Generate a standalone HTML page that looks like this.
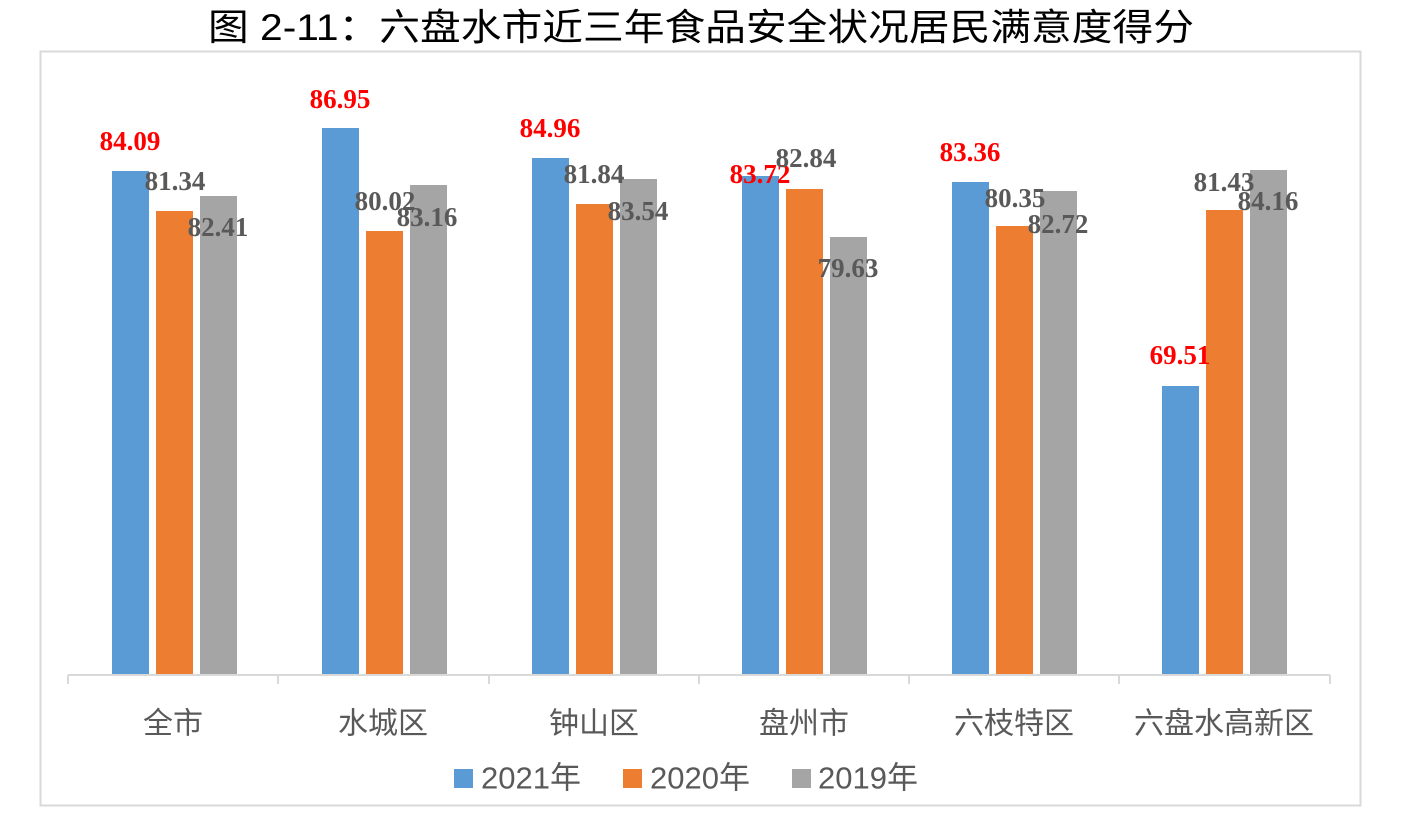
<!DOCTYPE html>
<html><head><meta charset="utf-8"><style>
html,body{margin:0;padding:0;background:#fff;}
svg{display:block;}
</style></head><body>
<svg width="1402" height="820" xmlns="http://www.w3.org/2000/svg">
<text x="701" y="40" text-anchor="middle" font-family="'Liberation Sans','Noto Sans CJK SC',sans-serif" font-size="37" fill="#000" textLength="986" lengthAdjust="spacingAndGlyphs">图 2-11：六盘水市近三年食品安全状况居民满意度得分</text>
<rect x="40.5" y="51.5" width="1320" height="754" fill="#fff" stroke="#d9d9d9" stroke-width="2"/>
<g fill="#5b9bd5">
<rect x="112" y="171" width="37" height="504"/>
<rect x="322" y="128" width="37" height="547"/>
<rect x="532" y="158" width="37" height="517"/>
<rect x="742" y="176" width="37" height="499"/>
<rect x="952" y="182" width="37" height="493"/>
<rect x="1162" y="386" width="37" height="289"/>
</g>
<g fill="#ed7d31">
<rect x="156" y="211" width="37" height="464"/>
<rect x="366" y="231" width="37" height="444"/>
<rect x="576" y="204" width="37" height="471"/>
<rect x="786" y="189" width="37" height="486"/>
<rect x="996" y="226" width="37" height="449"/>
<rect x="1206" y="210" width="37" height="465"/>
</g>
<g fill="#a5a5a5">
<rect x="200" y="196" width="37" height="479"/>
<rect x="410" y="185" width="37" height="490"/>
<rect x="620" y="179" width="37" height="496"/>
<rect x="830" y="237" width="37" height="438"/>
<rect x="1040" y="191" width="37" height="484"/>
<rect x="1250" y="170" width="37" height="505"/>
</g>
<g stroke="#d9d9d9" stroke-width="2">
<line x1="68" y1="675" x2="1330" y2="675"/>
<line x1="68" y1="675" x2="68" y2="684"/><line x1="278" y1="675" x2="278" y2="684"/>
<line x1="489" y1="675" x2="489" y2="684"/><line x1="699" y1="675" x2="699" y2="684"/>
<line x1="909" y1="675" x2="909" y2="684"/><line x1="1119" y1="675" x2="1119" y2="684"/>
<line x1="1330" y1="675" x2="1330" y2="684"/>
</g>
<g font-family="'Liberation Serif',serif" font-weight="bold" font-size="27" text-anchor="middle" dominant-baseline="central">
<g fill="#ff0000">
<text x="130" y="141">84.09</text><text x="340" y="99">86.95</text><text x="550" y="128">84.96</text>
<text x="760" y="174">83.72</text><text x="970" y="152">83.36</text><text x="1180" y="355">69.51</text>
</g>
<g fill="#595959">
<text x="175" y="181">81.34</text><text x="218" y="227">82.41</text>
<text x="385" y="201">80.02</text><text x="427" y="217">83.16</text>
<text x="594" y="174">81.84</text><text x="638" y="211">83.54</text>
<text x="806" y="158">82.84</text><text x="848" y="268">79.63</text>
<text x="1015" y="198">80.35</text><text x="1058" y="224">82.72</text>
<text x="1224" y="182">81.43</text><text x="1268" y="201">84.16</text>
</g>
</g>
<g font-family="'Liberation Sans','Noto Sans CJK SC',sans-serif" font-size="30" fill="#595959" text-anchor="middle" dominant-baseline="central">
<text x="173" y="724">全市</text><text x="383" y="724">水城区</text><text x="594" y="724">钟山区</text>
<text x="804" y="724">盘州市</text><text x="1014" y="724">六枝特区</text><text x="1224" y="724">六盘水高新区</text>
</g>
<rect x="454" y="769" width="19" height="19" fill="#5b9bd5"/>
<rect x="623" y="769" width="19" height="19" fill="#ed7d31"/>
<rect x="792" y="769" width="19" height="19" fill="#a5a5a5"/>
<g font-family="'Liberation Sans','Noto Sans CJK SC',sans-serif" font-size="31" fill="#595959" dominant-baseline="central">
<text x="481" y="778">2021年</text><text x="650" y="778">2020年</text><text x="818" y="778">2019年</text>
</g>
</svg>
</body></html>
